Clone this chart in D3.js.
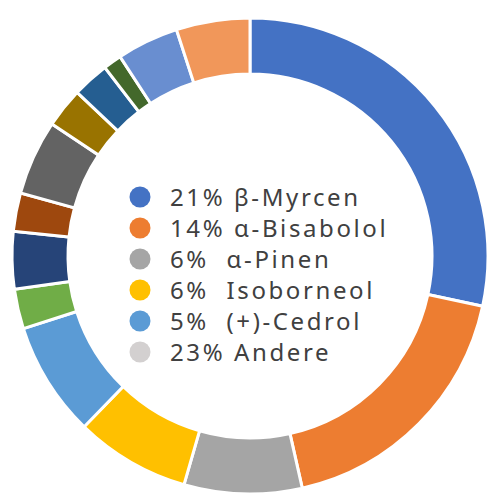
<!DOCTYPE html>
<html>
<head>
<meta charset="utf-8">
<title>Terpene</title>
<script src="https://cdn.jsdelivr.net/npm/d3@7"></script>
<style>
  html, body { margin: 0; padding: 0; background: #fff; }
  svg { display: block; }
</style>
</head>
<body>
<div id="chart"></div>
<script>
const sliceValues = [28.4, 18.1, 8.0, 7.8, 7.8, 2.7, 3.9, 2.6, 5.1, 2.7, 2.5, 1.25, 4.2, 5.0];
const sliceColors = ["#4472C4", "#ED7D31", "#A5A5A5", "#FFC000", "#5B9BD5", "#70AD47",
                     "#264478", "#9E480E", "#636363", "#997300", "#255E91", "#43682B",
                     "#698ED0", "#F1975A"];

// legend in the hole
const legendLabels = ["21% β-Myrcen", "14% α-Bisabolol", "6%  α-Pinen",
                      "6%  Isoborneol", "5%  (+)-Cedrol", "23% Andere"];
const legendColors = ["#4472C4", "#ED7D31", "#A5A5A5", "#FFC000", "#5B9BD5", "#D3D0D0"];

const w = 500, h = 500;
const cx = 250, cy = 256;
const outerR = 238, innerR = 182;

const svg = d3.select("#chart")
  .append("svg")
  .attr("width", w)
  .attr("height", h);

const pie = d3.pie().sort(null).value(d => d);
const arc = d3.arc().innerRadius(innerR).outerRadius(outerR);

const ring = svg.append("g")
  .attr("transform", `translate(${cx},${cy})`);

ring.selectAll("path")
  .data(pie(sliceValues))
  .enter()
  .append("path")
  .attr("d", arc)
  .attr("fill", (d, i) => sliceColors[i])
  .attr("stroke", "#fff")
  .attr("stroke-width", 3)
  .attr("stroke-linejoin", "miter");

// legend rows
const rowY = d3.scaleLinear().domain([0, legendLabels.length - 1]).range([197, 352]);

const legend = svg.append("g");
const rows = legend.selectAll("g")
  .data(legendLabels)
  .enter()
  .append("g")
  .attr("transform", (d, i) => `translate(140,${rowY(i)})`);

rows.append("circle")
  .attr("r", 10.5)
  .attr("fill", (d, i) => legendColors[i]);

rows.append("text")
  .attr("x", 30)
  .attr("y", 8.5)
  .attr("fill", "#404040")
  .style("font-family", "'Noto Sans', sans-serif")
  .style("font-size", "24px")
  .style("letter-spacing", "2.6px")
  .style("white-space", "pre")
  .text(d => d);
</script>
</body>
</html>
